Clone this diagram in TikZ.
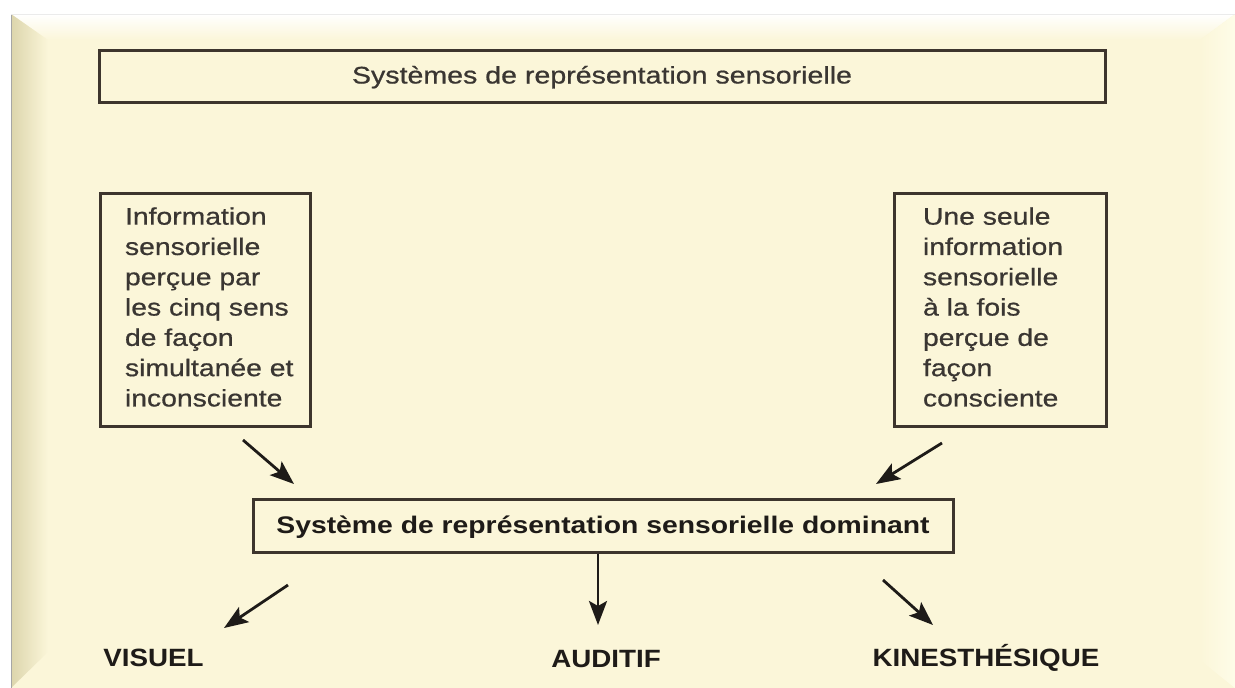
\documentclass[tikz,border=0pt]{standalone}
\usepackage{fontspec}
\setmainfont{Liberation Sans}
\newfontfamily\txtfont[FakeBold=0.6]{Liberation Sans}
\usetikzlibrary{arrows.meta}
\definecolor{cream}{HTML}{FBF6D9}
\definecolor{bevelL}{HTML}{DCD5AC}
\definecolor{bevelR}{HTML}{FEFCE8}
\definecolor{boxline}{HTML}{3D352D}
\definecolor{txt}{HTML}{3A3632}
\definecolor{ink}{HTML}{1E1B18}
\newcommand{\sx}[2]{\scalebox{#1}[1]{#2}}
\begin{document}
\begin{tikzpicture}[x=1pt,y=-1pt,
  box/.style={draw=boxline, line width=3pt, rectangle, inner sep=0pt},
  arr/.style={draw=ink, line width=2.8pt, -{Stealth[length=24pt,width=18pt,inset=5pt]}},
  lab/.style={anchor=base, text=ink, font=\fontsize{25}{30}\selectfont\bfseries, inner sep=0pt},
]
\useasboundingbox (0,0) rectangle (1235,688);
\fill[white] (0,0) rectangle (1235,688);
\fill[cream] (11,14) rectangle (1235,688);
% bevels
\shade[top color=white, bottom color=cream] (11,14) -- (1235,14) -- (1200,40) -- (48,40) -- cycle;
\shade[left color=bevelL, right color=cream] (11,14) -- (48,40) -- (48,652) -- (11,688) -- cycle;
\shade[left color=cream, right color=bevelR] (1235,14) -- (1200,40) -- (1200,660) -- (1235,688) -- cycle;
\draw[color=black!35, line width=1.2pt] (11.5,14) -- (11.5,688);
\draw[color=black!8, line width=0.8pt] (11,14) -- (1235,14);

% boxes
\node[box, minimum width=1006, minimum height=52, text=txt,
      font=\txtfont\fontsize{24}{29}\selectfont, text height=20, text depth=5] (title) at (602,76)
  {\sx{1.19}{Systèmes de représentation sensorielle}};

\node[box, minimum height=233, inner xsep=25pt, text=txt] (left) at (205,309.5)
  {\makebox[160pt][l]{\sx{1.18}{\txtfont\fontsize{24}{30.3}\selectfont\begin{tabular}{@{}l@{}}
  Information\\ sensorielle\\ perçue par\\ les cinq sens\\ de façon\\ simultanée et\\ inconsciente
  \end{tabular}}}};

\node[box, minimum height=233, inner xsep=29pt, text=txt] (right) at (1000,309.5)
  {\makebox[154pt][l]{\sx{1.18}{\txtfont\fontsize{24}{30.3}\selectfont\begin{tabular}{@{}l@{}}
  Une seule\\ information\\ sensorielle\\ à la fois\\ perçue de\\ façon\\ consciente
  \end{tabular}}}};

\node[box, minimum width=700, minimum height=53, text=ink,
      font=\fontsize{24}{29}\selectfont\bfseries, text height=21, text depth=6] (dom) at (603,525.5)
  {\sx{1.18}{Système de représentation sensorielle dominant}};

% labels
\node[lab] (vis) at (153.5,666) {\sx{1.11}{VISUEL}};
\node[lab] (aud) at (606,667) {\sx{1.11}{AUDITIF}};
\node[lab] (kin) at (986,666) {\sx{1.11}{KINESTHÉSIQUE}};

% arrow end points
\coordinate (a1s) at (243,440); \coordinate (a1e) at (294,484);
\coordinate (a2s) at (942,443); \coordinate (a2e) at (876,484);
\coordinate (a3s) at (288,585); \coordinate (a3e) at (224,628);
\coordinate (a4e) at (598,625);
\coordinate (a5s) at (883,580); \coordinate (a5e) at (933,625);

\draw[arr] (a1s) -- (a1e);
\draw[arr] (a2s) -- (a2e);
\draw[arr] (a3s) -- (a3e);
\draw[arr] (dom.south -| a4e) -- (a4e);
\draw[arr] (a5s) -- (a5e);
\end{tikzpicture}
\end{document}
